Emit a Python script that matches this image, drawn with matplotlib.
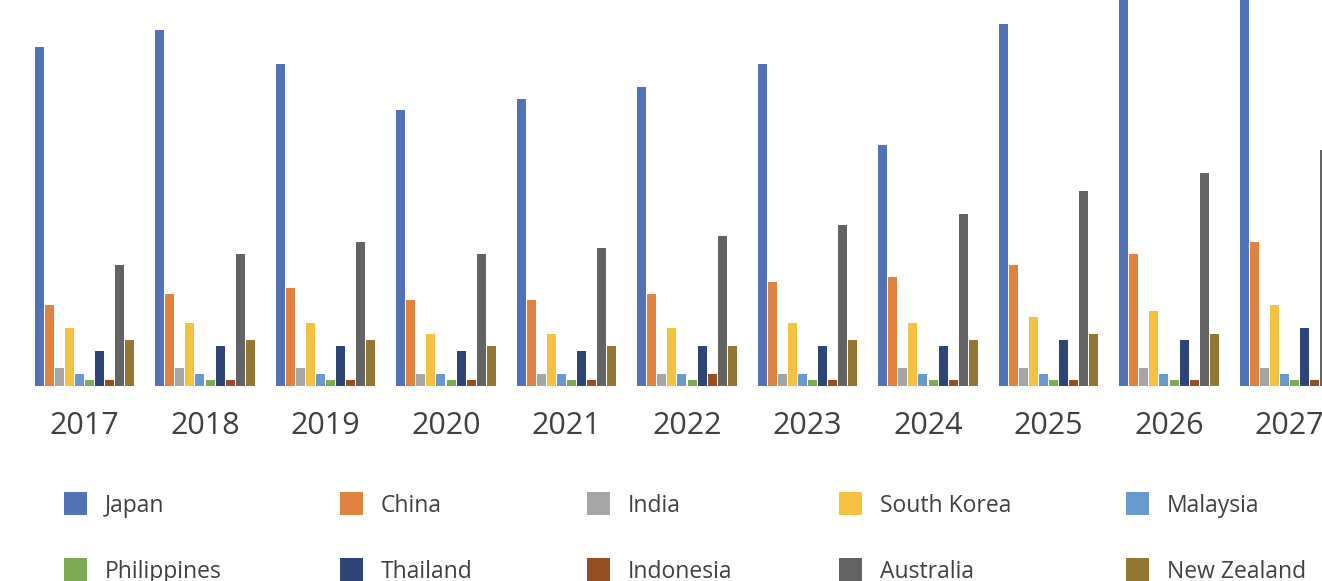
import matplotlib
matplotlib.use("Agg")
import matplotlib.pyplot as plt
from matplotlib.patches import Rectangle
import numpy as np

years = ["2017", "2018", "2019", "2020", "2021", "2022", "2023", "2024", "2025", "2026", "2027"]
series = ["Japan", "China", "India", "South Korea", "Malaysia",
          "Philippines", "Thailand", "Indonesia", "Australia", "New Zealand"]
colors = ["#5373B8", "#E0823F", "#A5A5A5", "#F4C141", "#6999CF",
          "#7FAA55", "#2D4476", "#954F23", "#636363", "#937631"]

japan       = [59, 62, 56, 48, 50, 52, 56, 42, 63, 70, 73]
china       = [14, 16, 17, 15, 15, 16, 18, 19, 21, 23, 25]
india       = [3, 3, 3, 2, 2, 2, 2, 3, 3, 3, 3]
south_korea = [10, 11, 11, 9, 9, 10, 11, 11, 12, 13, 14]
malaysia    = [2, 2, 2, 2, 2, 2, 2, 2, 2, 2, 2]
philippines = [1, 1, 1, 1, 1, 1, 1, 1, 1, 1, 1]
thailand    = [6, 7, 7, 6, 6, 7, 7, 7, 8, 8, 10]
indonesia   = [1, 1, 1, 1, 1, 2, 1, 1, 1, 1, 1]
australia   = [21, 23, 25, 23, 24, 26, 28, 30, 34, 37, 41]
new_zealand = [8, 8, 8, 7, 7, 7, 8, 8, 9, 9, 10]

values = [japan, china, india, south_korea, malaysia,
          philippines, thailand, indonesia, australia, new_zealand]

W, H = 1322, 581
fig = plt.figure(figsize=(W / 100, H / 100), dpi=100)
fig.patch.set_facecolor("white")

base_px = 385.7
ax = fig.add_axes([0, (H - base_px) / H, 1, base_px / H])
unit = 5.74
ax.set_ylim(0, base_px / unit)
group_px = 120.5
ax.set_xlim(-84.5 / group_px, (W - 84.5) / group_px)

x = np.arange(len(years))
slot = 10.1 / group_px
bw = 9.0 / group_px
n = len(series)
for j, (name, vals, c) in enumerate(zip(series, values, colors)):
    ax.bar(x + (j - (n - 1) / 2) * slot, vals, width=bw, color=c,
           edgecolor="none", label=name)

ax.set_xticks(x)
ax.set_xticklabels(years)
ax.tick_params(axis="x", length=0, pad=18, labelsize=22, labelcolor="#404040")
for lab in ax.get_xticklabels():
    lab.set_family("Open Sans")
ax.set_yticks([])
for s in ax.spines.values():
    s.set_visible(False)
ax.set_facecolor("none")

# legend (manual, Excel-like layout)
col_x = [64, 340, 587, 839, 1126]
row_y = [492, 558]
sq = 23
for k, (name, c) in enumerate(zip(series, colors)):
    r, cidx = divmod(k, 5)
    x0 = col_x[cidx]
    y0 = row_y[r]
    fig.patches.append(Rectangle((x0 / W, 1 - (y0 + sq) / H), sq / W, sq / H,
                                 transform=fig.transFigure, facecolor=c,
                                 edgecolor="none"))
    fig.text((x0 + 41) / W, 1 - (y0 + sq / 2 + 3) / H, name, fontsize=16.5,
             family="Open Sans", color="#404040", va="center", ha="left")

fig.savefig("out.png", dpi=100, facecolor="white")
